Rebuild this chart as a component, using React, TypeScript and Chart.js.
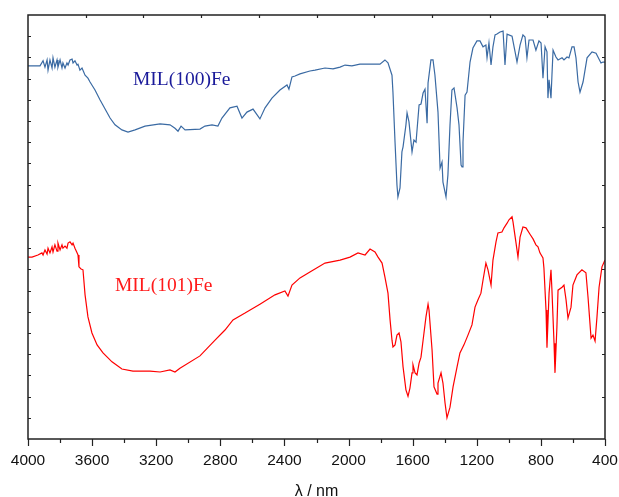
import React, { useEffect, useRef } from "react";
import { Chart, registerables } from "chart.js";

Chart.register(...registerables);

// MIL(100)Fe spectrum (wavenumber, cm-1) and transmittance (a.u., %)
const mil100Wavenumber = [
  4000, 3956, 3925, 3906, 3894, 3881, 3875, 3863, 3850, 3844, 3832, 3819, 3813, 3800, 3788, 3782, 3769, 3757, 3750, 3738,
  3725, 3719, 3707, 3694, 3688, 3676, 3663, 3644, 3626, 3613, 3582, 3551, 3488, 3457, 3414, 3376, 3332, 3270, 3176, 3114,
  3083, 3064, 3045, 3020, 2927, 2896, 2852, 2815, 2790, 2740, 2696, 2665, 2634, 2596, 2553, 2521, 2478, 2428, 2384, 2372,
  2353, 2334, 2303, 2241, 2209, 2147, 2097, 2053, 2022, 1979, 1929, 1866, 1804, 1773, 1754, 1729, 1723, 1710, 1698, 1692,
  1679, 1667, 1660, 1642, 1635, 1623, 1604, 1592, 1579, 1560, 1548, 1535, 1523, 1510, 1504, 1486, 1473, 1461, 1442, 1429,
  1417, 1411, 1392, 1380, 1367, 1355, 1342, 1323, 1311, 1298, 1292, 1286, 1273, 1261, 1242, 1224, 1199, 1180, 1161, 1143,
  1136, 1124, 1111, 1099, 1086, 1074, 1055, 1036, 1024, 1011, 980, 961, 949, 930, 912, 899, 887, 874, 849, 831,
  812, 799, 787, 774, 762, 756, 749, 737, 731, 724, 706, 693, 668, 656, 637, 625, 606, 593, 581, 568,
  556, 537, 512, 481, 456, 444, 425, 412, 400,
];
const mil100Transmittance = [
  88.0, 88.0, 88.0, 89.2, 87.7, 89.4, 87.0, 89.4, 87.5, 89.9, 87.7, 89.4, 87.7, 89.4, 87.5, 88.7, 87.5, 88.7, 88.2, 89.4,
  89.6, 88.7, 89.2, 88.2, 88.4, 87.0, 87.5, 85.8, 85.1, 84.2, 82.3, 80.0, 75.7, 74.1, 72.9, 72.4, 72.9, 73.8, 74.3, 74.1,
  73.3, 72.6, 73.8, 72.9, 73.1, 73.8, 74.1, 73.8, 75.7, 78.1, 78.5, 75.7, 77.1, 77.8, 75.5, 78.1, 80.4, 82.3, 83.5, 82.5,
  85.4, 85.6, 86.1, 86.8, 87.0, 87.5, 87.3, 87.7, 88.2, 88.0, 88.4, 88.4, 88.4, 89.4, 88.7, 85.8, 81.8, 70.0, 59.9, 57.1,
  59.2, 67.7, 68.9, 74.1, 76.9, 74.8, 67.7, 70.5, 70.0, 78.8, 79.0, 81.6, 82.5, 74.5, 84.0, 89.4, 89.4, 85.8, 77.1, 63.9,
  65.3, 60.6, 57.1, 62.3, 74.1, 82.3, 82.8, 78.1, 74.1, 64.6, 64.2, 70.0, 81.1, 81.8, 88.9, 92.2, 93.9, 93.9, 92.5, 92.9,
  89.9, 93.4, 88.2, 92.5, 95.3, 95.5, 96.0, 96.2, 88.2, 95.5, 95.0, 91.3, 88.9, 92.9, 95.3, 94.8, 89.9, 94.1, 94.1, 91.7,
  93.9, 93.4, 85.1, 92.5, 91.3, 80.4, 84.7, 80.4, 85.8, 91.7, 90.1, 89.4, 89.9, 89.4, 90.1, 89.9, 92.5, 92.5, 89.9, 84.2,
  81.8, 84.2, 89.9, 91.3, 91.0, 90.1, 88.7, 88.9, 88.9,
];

// MIL(101)Fe spectrum
const mil101Wavenumber = [
  4000, 3975, 3938, 3913, 3906, 3894, 3881, 3875, 3863, 3850, 3844, 3832, 3819, 3813, 3800, 3788, 3782, 3769, 3757, 3750,
  3738, 3725, 3719, 3707, 3694, 3688, 3682, 3669, 3657, 3644, 3626, 3601, 3569, 3532, 3476, 3414, 3345, 3239, 3176, 3114,
  3083, 3052, 2927, 2833, 2771, 2721, 2646, 2553, 2459, 2397, 2378, 2353, 2303, 2241, 2147, 2053, 1991, 1941, 1897, 1866,
  1835, 1816, 1791, 1773, 1754, 1741, 1729, 1723, 1710, 1698, 1685, 1673, 1660, 1642, 1629, 1617, 1604, 1598, 1585, 1573,
  1560, 1548, 1535, 1517, 1504, 1498, 1479, 1467, 1448, 1442, 1423, 1411, 1398, 1386, 1367, 1348, 1323, 1305, 1280, 1255,
  1230, 1211, 1193, 1174, 1161, 1143, 1130, 1111, 1099, 1080, 1068, 1043, 1030, 1011, 999, 980, 974, 955, 943, 930,
  912, 893, 868, 849, 831, 818, 806, 787, 781, 768, 762, 749, 737, 731, 718, 712, 700, 693, 668, 656,
  643, 631, 612, 600, 575, 544, 519, 506, 487, 475, 462, 450, 437, 419, 400,
];
const mil101Transmittance = [
  42.9, 42.9, 43.4, 43.9, 43.4, 44.6, 43.6, 45.0, 43.9, 45.3, 44.1, 45.8, 44.3, 46.2, 44.6, 45.8, 45.0, 45.5, 45.0, 46.2,
  46.5, 45.8, 46.2, 45.0, 43.9, 43.4, 40.6, 40.1, 39.9, 34.0, 28.8, 25.0, 22.2, 20.3, 18.2, 16.5, 16.0, 16.0, 15.8, 16.3,
  15.8, 16.7, 19.6, 23.3, 25.7, 28.1, 29.7, 31.8, 34.0, 34.9, 33.7, 36.3, 38.0, 39.4, 41.5, 42.2, 42.9, 43.9, 43.4, 44.8,
  44.1, 42.9, 41.5, 38.2, 34.4, 28.1, 23.3, 21.7, 22.2, 24.5, 25.0, 22.9, 17.0, 11.6, 10.1, 12.0, 15.6, 17.5, 15.6, 15.1,
  17.9, 19.3, 23.3, 28.8, 31.8, 30.4, 21.0, 12.3, 10.6, 13.2, 15.6, 13.2, 8.5, 5.0, 7.5, 12.3, 17.0, 20.3, 22.2, 24.5,
  26.9, 31.1, 32.8, 34.4, 37.5, 41.5, 39.9, 36.3, 42.2, 46.5, 48.6, 48.8, 49.8, 50.9, 51.7, 52.4, 51.2, 46.2, 42.9, 47.6,
  50.0, 49.8, 48.3, 47.2, 45.8, 45.3, 43.9, 42.7, 40.3, 30.4, 21.5, 34.4, 39.9, 35.1, 22.6, 15.6, 26.4, 35.1, 35.8, 36.3,
  32.8, 28.5, 31.1, 36.3, 38.7, 39.9, 39.2, 33.5, 23.8, 24.5, 23.1, 28.8, 35.8, 40.6, 42.2,
];

const xMin = 400;
const xMax = 4000;
const xStep = 400;
const seriesLabels = ["MIL(100)Fe", "MIL(101)Fe"];
const seriesColors = ["#3a6aa3", "#ff0000"];
const labelColors = ["#1a1a9a", "#ff1a1a"];
// annotation anchors (wavenumber, transmittance)
const labelWavenumber = [3345, 3457];
const labelTransmittance = [83.5, 34.9];
const xTitle = "λ / nm";

const framePlugin = {
  id: "framePlugin",
  afterDraw(chart: any) {
    const { ctx, chartArea } = chart;
    const xs = chart.scales.x;
    const ys = chart.scales.y;
    const { left, right, top, bottom } = chartArea;
    ctx.save();
    // labels
    ctx.font = '19.5px "Liberation Serif", "Times New Roman", serif';
    ctx.textAlign = "left";
    ctx.textBaseline = "alphabetic";
    for (let i = 0; i < seriesLabels.length; i++) {
      ctx.fillStyle = labelColors[i];
      ctx.fillText(seriesLabels[i], xs.getPixelForValue(labelWavenumber[i]), ys.getPixelForValue(labelTransmittance[i]));
    }
    ctx.strokeStyle = "#222";
    ctx.lineWidth = 1.5;
    ctx.strokeRect(left, top, right - left, bottom - top);
    ctx.lineWidth = 1.2;
    ctx.beginPath();
    // bottom ticks (outward)
    for (let v = xMin; v <= xMax; v += xStep / 2) {
      const px = Math.round(xs.getPixelForValue(v)) + 0.5;
      const len = (v - xMin) % xStep === 0 ? 7 : 4;
      ctx.moveTo(px, bottom);
      ctx.lineTo(px, bottom + len);
    }
    // top ticks (inward)
    for (let k = 1; k < 10; k++) {
      const px = Math.round(xs.getPixelForValue(xMax - ((xMax - xMin) * k) / 10)) + 0.5;
      ctx.moveTo(px, top);
      ctx.lineTo(px, top + 3);
    }
    // left ticks (inward)
    for (let k = 1; k < 20; k++) {
      const py = Math.round(ys.getPixelForValue(k * 5)) + 0.5;
      ctx.moveTo(left, py);
      ctx.lineTo(left + 3, py);
    }
    // right ticks (inward)
    for (let k = 1; k < 10; k++) {
      const py = Math.round(ys.getPixelForValue(k * 10)) + 0.5;
      ctx.moveTo(right, py);
      ctx.lineTo(right - 3, py);
    }
    ctx.stroke();
    ctx.restore();
  },
};

export default function App() {
  const ref = useRef<HTMLCanvasElement | null>(null);
  useEffect(() => {
    document.body.style.margin = "0";
    const canvas = ref.current!;
    const toPoints = (xs: number[], ys: number[]) => xs.map((x, i) => ({ x, y: ys[i] }));
    const chart = new Chart(canvas, {
      type: "line",
      data: {
        datasets: [
          {
            label: seriesLabels[0],
            data: toPoints(mil100Wavenumber, mil100Transmittance),
            borderColor: seriesColors[0],
            borderWidth: 1.2,
            pointRadius: 0,
            tension: 0,
            fill: false,
          },
          {
            label: seriesLabels[1],
            data: toPoints(mil101Wavenumber, mil101Transmittance),
            borderColor: seriesColors[1],
            borderWidth: 1.2,
            pointRadius: 0,
            tension: 0,
            fill: false,
          },
        ],
      },
      options: {
        responsive: false,
        animation: false,
        devicePixelRatio: 1,
        layout: { padding: { left: 28, right: 14, top: 15, bottom: 0 } },
        plugins: { legend: { display: false }, tooltip: { enabled: false } },
        scales: {
          x: {
            type: "linear",
            reverse: true,
            min: xMin,
            max: xMax,
            grid: { display: false, drawTicks: false },
            border: { display: false },
            ticks: {
              stepSize: xStep,
              padding: 12,
              color: "#111",
              font: { family: '"Liberation Sans", Arial, sans-serif', size: 15.5 },
              callback: (v: any) => String(v),
              maxRotation: 0,
              autoSkip: false,
            },
            title: {
              display: true,
              text: xTitle,
              color: "#111",
              font: { family: '"Liberation Sans", Arial, sans-serif', size: 16, lineHeight: 0.7 },
              padding: { top: 0, bottom: 0 },
            },
            afterFit: (scale: any) => {
              scale.height = 58;
              scale.paddingLeft = 0;
              scale.paddingRight = 0;
            },
          },
          y: {
            display: false,
            min: 0,
            max: 100,
          },
        },
      },
      plugins: [framePlugin],
    });
    return () => chart.destroy();
  }, []);
  return <canvas ref={ref} width={619} height={497} style={{ display: "block" }} />;
}
